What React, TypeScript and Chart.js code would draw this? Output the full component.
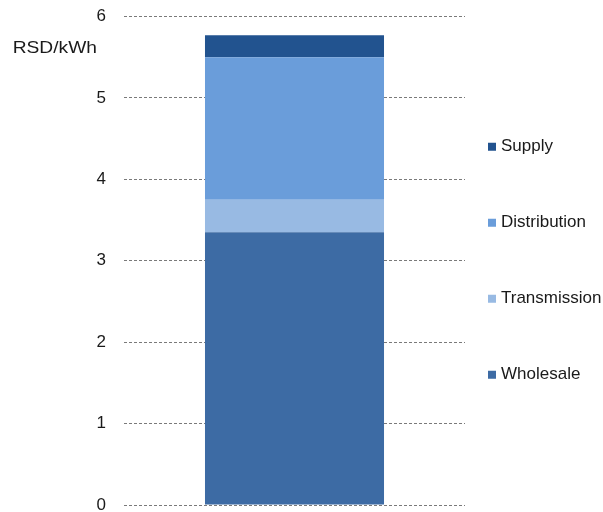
import React, { useEffect, useRef } from 'react';
import { Chart, registerables } from 'chart.js';

Chart.register(...registerables);

// ---- data ----
const categories = [''];
const seriesNames = ['Wholesale', 'Transmission', 'Distribution', 'Supply'];
const wholesale = [3.35];
const transmission = [0.4];
const distribution = [1.75];
const supply = [0.27];
const yMin = 0;
const yMax = 6;
const yStep = 1;
const unitLabel = 'RSD/kWh';

// ---- styles ----
const seriesColors = ['#3D6BA4', '#98BAE3', '#6A9DDA', '#22538F'];
const FONT = '"Liberation Sans", Arial, Helvetica, sans-serif';
const TEXT_COLOR = '#1a1a1a';

const sideLegend = {
  id: 'sideLegend',
  afterDraw(chart: any) {
    const { ctx, chartArea } = chart;
    const items = chart.data.datasets
      .map((d: any) => ({ label: d.label, color: d.backgroundColor }))
      .reverse();
    const gap = 76;
    const cy = (chartArea.top + chartArea.bottom) / 2;
    const startY = cy - (gap * (items.length - 1)) / 2;
    ctx.save();
    ctx.font = `17px ${FONT}`;
    ctx.textBaseline = 'middle';
    ctx.textAlign = 'left';
    items.forEach((it: any, i: number) => {
      const y = startY + i * gap;
      ctx.fillStyle = it.color;
      ctx.fillRect(chartArea.right + 23, y - 4, 8, 8);
      ctx.fillStyle = TEXT_COLOR;
      ctx.fillText(it.label, chartArea.right + 36, y);
    });
    ctx.restore();
  },
};

const unitPlugin = {
  id: 'unitLabel',
  afterDraw(chart: any) {
    const { ctx, chartArea } = chart;
    ctx.save();
    ctx.font = `17px ${FONT}`;
    ctx.fillStyle = TEXT_COLOR;
    ctx.textAlign = 'right';
    ctx.textBaseline = 'middle';
    ctx.translate(chartArea.left - 27, chartArea.top + 31.5);
    ctx.scale(1.13, 1);
    ctx.fillText(unitLabel, 0, 0);
    ctx.restore();
  },
};

export default function App() {
  const ref = useRef<HTMLCanvasElement>(null);

  useEffect(() => {
    if (!ref.current) return;
    const values = [wholesale, transmission, distribution, supply];
    const chart = new Chart(ref.current, {
      type: 'bar',
      data: {
        labels: categories,
        datasets: seriesNames.map((name, i) => ({
          label: name,
          data: values[i],
          backgroundColor: seriesColors[i],
          borderWidth: 0,
          categoryPercentage: 1,
          barPercentage: 0.525,
        })),
      },
      options: {
        responsive: false,
        animation: false,
        layout: { padding: { top: 16.5, bottom: 7, left: 0, right: 138 } },
        plugins: {
          legend: { display: false },
          tooltip: { enabled: false },
        },
        scales: {
          x: {
            stacked: true,
            display: false,
          },
          y: {
            stacked: true,
            min: yMin,
            max: yMax,
            ticks: {
              stepSize: yStep,
              padding: 18,
              color: TEXT_COLOR,
              font: { family: FONT, size: 17 },
            },
            grid: {
              color: '#7a7a7a',
              lineWidth: 1,
              drawTicks: false,
            },
            border: { display: false, dash: [3, 2] },
            afterFit(scale: any) {
              scale.width = 124;
              scale.paddingTop = 0;
              scale.paddingBottom = 0;
            },
          },
        },
      },
      plugins: [sideLegend, unitPlugin],
    });
    return () => chart.destroy();
  }, []);

  return (
    <div style={{ position: 'fixed', left: 0, top: 0, width: 603, height: 512, background: '#fff' }}>
      <canvas ref={ref} width={603} height={512} style={{ display: 'block' }} />
    </div>
  );
}
